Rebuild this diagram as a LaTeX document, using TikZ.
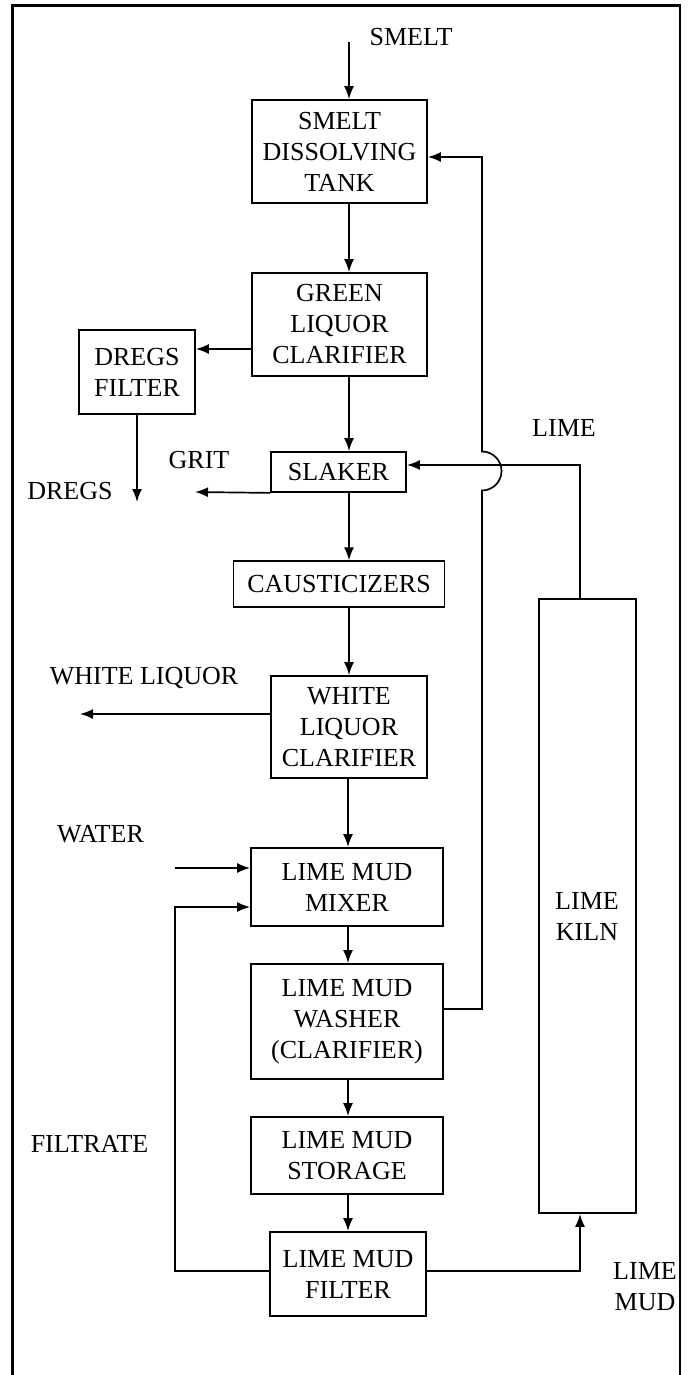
\documentclass[tikz,border=0pt]{standalone}
\usepackage{fontspec}
\setmainfont{Liberation Serif}
\usetikzlibrary{arrows.meta,calc}
\begin{document}
\begin{tikzpicture}[x=1pt,y=-1pt,
  box/.style={draw,line width=1.8pt,rectangle,inner sep=0pt,align=center,font=\fontsize{26}{31}\selectfont},
  lbl/.style={inner sep=0pt,align=center,font=\fontsize{26}{31}\selectfont},
  flow/.style={line width=1.7pt,-{Latex[length=13pt,width=10pt]}},
  frame/.style={line width=2.4pt}]
\useasboundingbox (0,0) rectangle (694,1375);
\draw[frame] (12.5,1380) -- (12.5,5.5) -- (680,5.5) -- (680,1380);

% boxes
\node[box,minimum width=175pt,minimum height=103pt] (tank) at (339.5,151.5) {SMELT\\DISSOLVING\\TANK};
\node[box,minimum width=175pt,minimum height=103pt] (green) at (339.5,324.5) {GREEN\\LIQUOR\\CLARIFIER};
\node[box,minimum width=116pt,minimum height=84pt] (dregs) at (137,372) {DREGS\\FILTER};
\node[box,minimum width=135pt,minimum height=40pt] (slaker) at (338.5,472) {SLAKER};
\node[box,minimum width=211pt,minimum height=45.5pt] (caust) at (339,584) {CAUSTICIZERS};
\node[box,minimum width=156pt,minimum height=102pt] (wlc) at (349,727) {WHITE\\LIQUOR\\CLARIFIER};
\node[box,minimum width=192pt,minimum height=78pt] (mixer) at (347,887) {LIME MUD\\MIXER};
\node[box,minimum width=192pt,minimum height=115pt] (washer) at (347,1021.5) {LIME MUD\\WASHER\\(CLARIFIER)};
\node[box,minimum width=192pt,minimum height=77pt] (storage) at (347,1155.5) {LIME MUD\\STORAGE};
\node[box,minimum width=156pt,minimum height=84pt] (filter) at (348,1274) {LIME MUD\\FILTER};
\node[box,minimum width=97pt,minimum height=614pt] (kiln) at (587.5,906) {};
\node[lbl] (kilntext) at (587,916) {LIME\\KILN};

% labels
\node[lbl] (smeltlbl) at (411,37) {SMELT};
\node[lbl] (dregslbl) at (70,491) {DREGS};
\node[lbl] (gritlbl) at (199,460) {GRIT};
\node[lbl] (limelbl) at (564,428) {LIME};
\node[lbl] (wllbl) at (144,678) {WHITE LIQUOR};
\node[lbl] (waterlbl) at (100.5,834) {WATER};
\node[lbl] (filtlbl) at (89.5,1144) {FILTRATE};
\node[lbl] (lmlbl) at (645,1287) {LIME\\MUD};

% coordinates
\coordinate (col) at (349,0);
\coordinate (col2) at (348,0);
\coordinate (smeltin) at (349,42);
\coordinate (dy) at (0,349);
\coordinate (dregsend) at (137,502);
\coordinate (gritend) at (195,492);
\coordinate (wlend) at (80,714);
\coordinate (waterstart) at (175,868);
\coordinate (fy) at (175,1271);
\coordinate (fin) at (175,907);
\coordinate (lmx) at (580,1271);
\coordinate (limex) at (580,465);
\coordinate (rb) at (482,1009);
\coordinate (jb) at (482,490.5);
\coordinate (rt) at (482,157);

% main flow
\draw[flow] (smeltin) -- (smeltin |- tank.north);
\draw[flow] (tank.south -| col) -- (green.north -| col);
\draw[flow] (green.south -| col) -- (slaker.north -| col);
\draw[flow] (slaker.south -| col) -- (caust.north -| col);
\draw[flow] (caust.south -| col) -- (wlc.north -| col);
\draw[flow] (wlc.south -| col2) -- (mixer.north -| col2);
\draw[flow] (mixer.south -| col2) -- (washer.north -| col2);
\draw[flow] (washer.south -| col2) -- (storage.north -| col2);
\draw[flow] (storage.south -| col2) -- (filter.north -| col2);

% side streams
\draw[flow] (green.west |- dy) -- (dregs.east |- dy);
\draw[flow] (dregs.south) -- (dregsend);
\draw[flow] (slaker.south west) -- (gritend);
\draw[flow] (wlc.west |- wlend) -- (wlend);
\draw[flow] (waterstart) -- (mixer.west |- waterstart);
\draw[flow] (filter.west |- fy) -- (fy) -- (fin) -- (mixer.west |- fin);
\draw[flow] (filter.east |- lmx) -- (lmx) -- (lmx |- kiln.south);
\draw[flow] (limex |- kiln.north) -- (limex) -- (slaker.east |- limex);
\draw[flow] (washer.east |- rb) -- (rb) -- (jb) arc[start angle=90,end angle=-90,radius=19.5] -- (rt) -- (tank.east |- rt);
\end{tikzpicture}
\end{document}
